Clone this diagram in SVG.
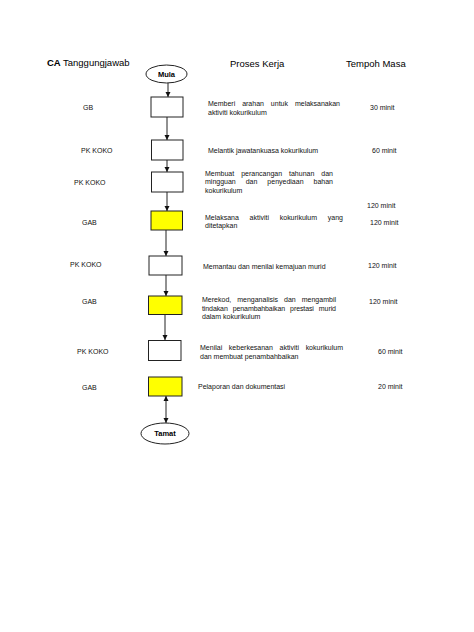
<svg xmlns="http://www.w3.org/2000/svg" width="474" height="632" viewBox="0 0 474 632">
<style>
.hdr{font-family:"Liberation Sans",Arial,sans-serif;font-size:9.5px;fill:#000}
.b{font-weight:bold}
.t{font-family:"Liberation Sans",Arial,sans-serif;font-size:7px;fill:#111}
.tm{font-family:"Liberation Sans",Arial,sans-serif;font-size:7.5px;font-weight:bold;fill:#000;text-anchor:middle}
.box{fill:#fff;stroke:#222;stroke-width:1}
.ybox{fill:#ffff00;stroke:#222;stroke-width:1}
.ell{fill:#fff;stroke:#222;stroke-width:1}
.conn{stroke:#222;stroke-width:1;fill:none}
</style>
<defs>
<marker id="ah" markerUnits="userSpaceOnUse" markerWidth="6" markerHeight="6" refX="5" refY="3" orient="auto-start-reverse">
<path d="M0,0.5 L5,3 L0,5.5 Z" fill="#111"/>
</marker>
</defs>
<rect width="474" height="632" fill="#fff"/>
<g id="headers">
<text class="hdr b" x="47" y="66">CA</text>
<text class="hdr" x="63" y="66">Tanggungjawab</text>
<text class="hdr" x="230" y="67">Proses Kerja</text>
<text class="hdr" x="346" y="67">Tempoh Masa</text>
</g>
<g id="connectors">
<line class="conn" x1="168" y1="83" x2="168" y2="97" marker-end="url(#ah)"/>
<line class="conn" x1="167" y1="117" x2="167" y2="140" marker-end="url(#ah)"/>
<line class="conn" x1="167" y1="160" x2="167" y2="172" marker-end="url(#ah)"/>
<line class="conn" x1="167" y1="192" x2="167" y2="211" marker-end="url(#ah)"/>
<line class="conn" x1="166" y1="230" x2="166" y2="256" marker-end="url(#ah)"/>
<line class="conn" x1="166" y1="275" x2="166" y2="296" marker-end="url(#ah)"/>
<line class="conn" x1="165" y1="314" x2="165" y2="340" marker-end="url(#ah)"/>
<line class="conn" x1="166" y1="396" x2="166" y2="423" marker-start="url(#ah)" marker-end="url(#ah)"/>
</g>
<g id="mula">
<ellipse class="ell" cx="166.5" cy="74" rx="20.5" ry="9"/>
<text class="tm" x="166.5" y="76.5">Mula</text>
</g>
<g id="step1">
<text class="t" x="83" y="109.5">GB</text>
<rect class="box" x="151" y="97" width="32" height="20"/>
<text class="t" x="208" y="106" word-spacing="5" textLength="132" lengthAdjust="spacing">Memberi arahan untuk melaksanakan</text>
<text class="t" x="208" y="115">aktiviti kokurikulum</text>
<text class="t" x="370" y="109.5">30 minit</text>
</g>
<g id="step2">
<text class="t" x="81" y="152.5">PK KOKO</text>
<rect class="box" x="151.5" y="140" width="31.5" height="20"/>
<text class="t" x="208" y="152.5">Melantik jawatankuasa kokurikulum</text>
<text class="t" x="372" y="152.5">60 minit</text>
</g>
<g id="step3">
<text class="t" x="74" y="184.5">PK KOKO</text>
<rect class="box" x="151.5" y="172" width="31.5" height="20"/>
<text class="t" x="205" y="175.5" word-spacing="5" textLength="128" lengthAdjust="spacing">Membuat perancangan tahunan dan</text>
<text class="t" x="205" y="184" word-spacing="8" textLength="128" lengthAdjust="spacing">mingguan dan penyediaan bahan</text>
<text class="t" x="205" y="192.5">kokurikulum</text>
<text class="t" x="367" y="208">120 minit</text>
</g>
<g id="step4">
<text class="t" x="82" y="224.5">GAB</text>
<rect class="ybox" x="151" y="211" width="31.5" height="19"/>
<text class="t" x="205" y="219.5" word-spacing="8.8" textLength="138" lengthAdjust="spacing">Melaksana aktiviti kokurikulum yang</text>
<text class="t" x="205" y="228">ditetapkan</text>
<text class="t" x="370" y="224.5">120 minit</text>
</g>
<g id="step5">
<text class="t" x="70" y="266.5">PK KOKO</text>
<rect class="box" x="149" y="256" width="33" height="19"/>
<text class="t" x="203" y="269">Memantau dan menilai kemajuan murid</text>
<text class="t" x="368" y="267.5">120 minit</text>
</g>
<g id="step6">
<text class="t" x="82" y="304">GAB</text>
<rect class="ybox" x="148.5" y="296" width="33.5" height="18.5"/>
<text class="t" x="202" y="302" word-spacing="4" textLength="134" lengthAdjust="spacing">Merekod, menganalisis dan mengambil</text>
<text class="t" x="202" y="310.5" word-spacing="3.2" textLength="134" lengthAdjust="spacing">tindakan penambahbaikan prestasi murid</text>
<text class="t" x="202" y="319">dalam kokurikulum</text>
<text class="t" x="369" y="304">120 minit</text>
</g>
<g id="step7">
<text class="t" x="77" y="353.5">PK KOKO</text>
<rect class="box" x="148.5" y="340.5" width="32.5" height="20"/>
<text class="t" x="200" y="350" word-spacing="4.7" textLength="143" lengthAdjust="spacing">Menilai keberkesanan aktiviti kokurikulum</text>
<text class="t" x="200" y="358.5">dan membuat penambahbaikan</text>
<text class="t" x="378" y="354">60 minit</text>
</g>
<g id="step8">
<text class="t" x="82" y="389.5">GAB</text>
<rect class="ybox" x="148.5" y="377" width="33.5" height="19"/>
<text class="t" x="198" y="389">Pelaporan dan dokumentasi</text>
<text class="t" x="378" y="389">20 minit</text>
</g>
<g id="tamat">
<ellipse class="ell" cx="165" cy="433.5" rx="24" ry="10.5"/>
<text class="tm" x="165" y="436">Tamat</text>
</g>
</svg>
